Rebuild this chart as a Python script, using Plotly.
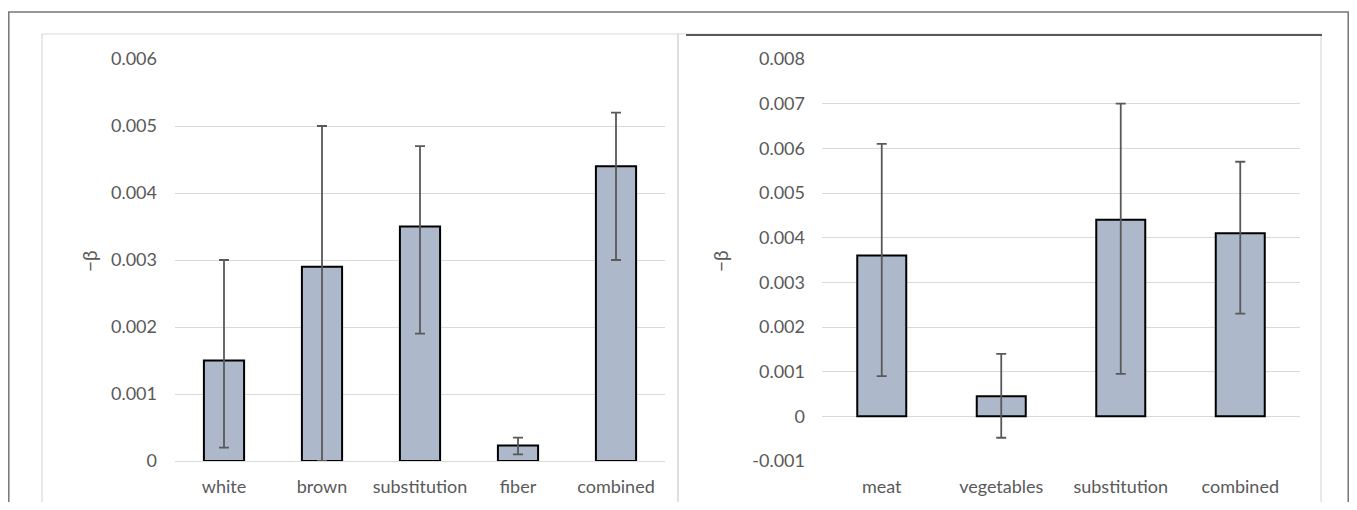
import plotly.graph_objects as go

# page body has an 8px margin; the figure fills the rest of the window
OFF = 8
W, H = 1357 - 2 * OFF, 510 - 2 * OFF

# Left panel data
left_cats = ["white", "brown", "substitution", "fiber", "combined"]
left_vals = [0.0015, 0.0029, 0.0035, 0.00023, 0.0044]
left_upper = [0.0030, 0.0050, 0.0047, 0.00035, 0.0052]
left_lower = [0.0002, 0.0000, 0.0019, 0.00010, 0.0030]
left_ticks = [0, 0.001, 0.002, 0.003, 0.004, 0.005, 0.006]
left_ticktext = ["0", "0.001", "0.002", "0.003", "0.004", "0.005", "0.006"]

# Right panel data
right_cats = ["meat", "vegetables", "substitution", "combined"]
right_vals = [0.0036, 0.00045, 0.0044, 0.0041]
right_upper = [0.0061, 0.0014, 0.0070, 0.0057]
right_lower = [0.0009, -0.00048, 0.00095, 0.0023]
right_ticks = [-0.001, 0, 0.001, 0.002, 0.003, 0.004, 0.005, 0.006, 0.007, 0.008]
right_ticktext = ["-0.001", "0", "0.001", "0.002", "0.003", "0.004", "0.005", "0.006", "0.007", "0.008"]

y_title = "−β"

BAR = "#adb9ca"
ERR = "#595959"
GRID = "#d9d9d9"
TXT = "#595959"
FONT = "Lato"
FS = 18


def px(x):
    return (x - OFF) / W


def py(y):
    return 1 - (y - OFF) / H


fig = go.Figure()

fig.add_trace(go.Bar(
    x=left_cats, y=left_vals, xaxis="x", yaxis="y",
    marker=dict(color=BAR, line=dict(color="#000000", width=2)),
    error_y=dict(type="data", symmetric=False,
                 array=[u - v for u, v in zip(left_upper, left_vals)],
                 arrayminus=[v - l for v, l in zip(left_vals, left_lower)],
                 color=ERR, thickness=1.8, width=5),
    showlegend=False, hoverinfo="skip",
))

fig.add_trace(go.Bar(
    x=right_cats, y=right_vals, xaxis="x2", yaxis="y2",
    marker=dict(color=BAR, line=dict(color="#000000", width=2)),
    error_y=dict(type="data", symmetric=False,
                 array=[u - v for u, v in zip(right_upper, right_vals)],
                 arrayminus=[v - l for v, l in zip(right_vals, right_lower)],
                 color=ERR, thickness=1.8, width=5),
    showlegend=False, hoverinfo="skip",
))

ydom = [py(461), py(59)]
axis_common = dict(showline=False, ticks="", automargin=False,
                   tickfont=dict(family=FONT, size=FS, color=TXT))

fig.update_layout(
    width=W, height=H,
    margin=dict(l=0, r=0, t=0, b=0, pad=0),
    paper_bgcolor="white", plot_bgcolor="white",
    bargap=0.59,
    font=dict(family=FONT, color=TXT),
    xaxis=dict(domain=[px(175), px(665)], anchor="y", showgrid=False,
               ticklabelstandoff=13, **axis_common),
    yaxis=dict(domain=ydom, anchor="x", range=[0, 0.006],
               tickvals=left_ticks, ticktext=left_ticktext,
               showgrid=True, gridcolor=GRID, gridwidth=1,
               zeroline=True, zerolinecolor=GRID, zerolinewidth=1,
               ticklabelstandoff=17, **axis_common),
    xaxis2=dict(domain=[px(822), px(1300)], anchor="y2", showgrid=False,
                ticklabelstandoff=13, **axis_common),
    yaxis2=dict(domain=ydom, anchor="x2", range=[-0.001, 0.008],
                tickvals=right_ticks, ticktext=right_ticktext,
                showgrid=True, gridcolor=GRID, gridwidth=1,
                zeroline=True, zerolinecolor=GRID, zerolinewidth=1,
                ticklabelstandoff=16, **axis_common),
)

shapes = [
    # outer frame (kept just inside the drawable area)
    dict(type="rect", xref="paper", yref="paper", x0=px(8.8), x1=px(1348.2), y0=py(530), y1=py(12),
         line=dict(color="#767676", width=1.5)),
    # left panel frame
    dict(type="rect", xref="paper", yref="paper", x0=px(42), x1=px(678), y0=py(530), y1=py(34),
         line=dict(color=GRID, width=1.2)),
    # right panel frame
    dict(type="rect", xref="paper", yref="paper", x0=px(678), x1=px(1321), y0=py(530), y1=py(34),
         line=dict(color=GRID, width=1.2)),
    # dark top line over right panel
    dict(type="line", xref="paper", yref="paper", x0=px(686), x1=px(1322), y0=py(35), y1=py(35),
         line=dict(color="#595959", width=2)),
]
fig.update_layout(shapes=shapes)

for xc in (89, 720):
    fig.add_annotation(x=px(xc), y=py(261), xref="paper", yref="paper", text=y_title,
                       textangle=-90, showarrow=False, xanchor="center", yanchor="middle",
                       font=dict(family=FONT, size=19, color=TXT))

fig.write_html("out.html")
